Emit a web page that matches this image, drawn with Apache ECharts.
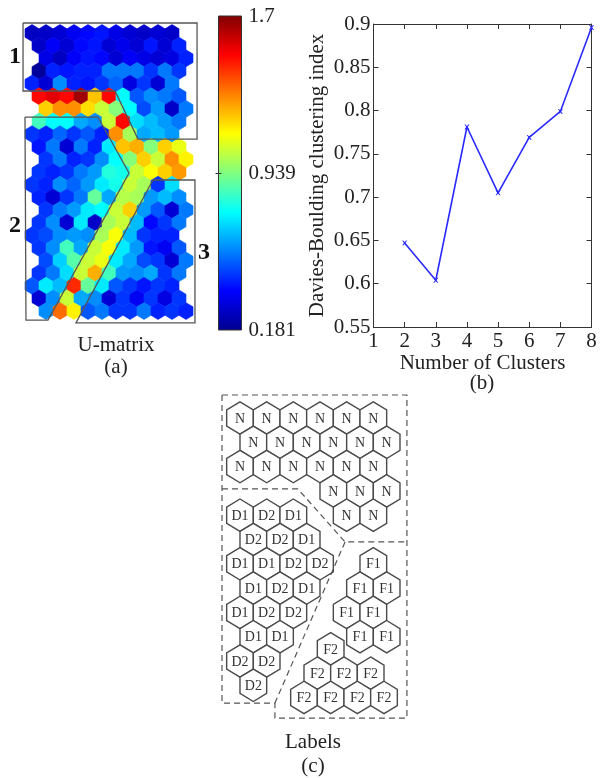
<!DOCTYPE html>
<html><head><meta charset="utf-8">
<script src="https://cdn.jsdelivr.net/npm/echarts@6/dist/echarts.min.js"></script>
<style>html,body{margin:0;padding:0;background:#fff}#c{width:602px;height:778px}</style>
</head><body><div id="c"></div>
<script>
// ---------- DATA ----------
// (a) U-matrix values, 23 rows x 11 columns (top row first)
const umatrix = [
  [0.27,0.28,0.30,0.35,0.38,0.40,0.33,0.30,0.28,0.30,0.28],
  [0.28,0.36,0.30,0.38,0.40,0.30,0.34,0.30,0.40,0.30,0.42],
  [0.33,0.27,0.36,0.40,0.38,0.30,0.36,0.33,0.30,0.32,0.42],
  [0.20,0.42,0.40,0.42,0.42,0.55,0.55,0.55,0.45,0.55,0.45],
  [0.42,0.30,0.58,0.42,0.40,0.45,0.52,0.32,0.45,0.30,0.55],
  [1.50,1.55,1.50,1.65,1.22,1.50,0.75,0.50,0.58,0.55,0.50],
  [1.20,1.30,1.30,1.18,1.05,0.95,0.75,0.48,0.60,0.28,0.55],
  [0.85,0.75,0.75,0.62,0.58,1.05,1.50,0.70,0.65,0.60,0.55],
  [0.45,0.42,0.52,0.45,0.50,0.42,1.30,1.00,0.62,0.65,0.60],
  [0.40,0.55,0.30,0.55,0.42,0.72,1.22,1.25,0.95,1.20,1.10],
  [0.45,0.55,0.42,0.45,0.58,0.75,0.95,1.20,1.05,1.30,1.15],
  [0.45,0.42,0.45,0.55,0.60,0.80,0.78,1.05,1.12,1.20,1.28],
  [0.45,0.42,0.58,0.52,0.60,0.72,0.78,1.05,1.00,0.45,0.70],
  [0.42,0.30,0.45,0.55,0.90,0.62,1.02,1.00,0.60,0.65,0.58],
  [0.45,0.55,0.60,0.72,0.75,1.05,1.20,0.60,0.50,0.30,0.55],
  [0.45,0.58,0.30,0.72,0.28,1.00,1.05,0.65,0.38,0.45,0.55],
  [0.45,0.48,0.58,0.60,0.58,1.00,1.12,0.65,0.45,0.42,0.42],
  [0.45,0.58,0.85,0.62,1.05,1.12,0.72,0.60,0.40,0.35,0.50],
  [0.48,0.68,0.88,1.05,1.10,0.72,0.62,0.48,0.45,0.30,0.55],
  [0.45,0.55,0.70,1.05,1.25,0.85,0.60,0.58,0.62,0.45,0.55],
  [0.50,0.72,0.65,1.45,0.90,0.72,0.50,0.45,0.40,0.45,0.42],
  [0.30,0.58,1.05,0.62,0.58,0.30,0.45,0.35,0.45,0.32,0.45],
  [0.58,1.35,1.15,0.50,0.55,0.45,0.45,0.55,0.42,0.45,0.42]
];
const umatrixRowShift = [0, 0.5, 1, 0.5];
const colorbarMin = 0.181;
const colorbarMax = 1.7;
const colorbarTicks = [0.181, 0.939, 1.7];
const jetColors = ['#00008f','#0000ff','#0080ff','#00ffff','#80ff80','#ffff00','#ff8000','#ff0000','#800000'];
// cluster outlines on the U-matrix, in grid units (column, row)
const umRegion1 = [[-0.64,-0.79],[11.79,-0.79],[11.79,8.39],[7.57,8.39],[5.93,4.59],[-0.64,4.59],[-0.64,-0.79]];
const umRegion2 = [[-0.5,6.65],[4.71,6.65],[6.93,11.08],[1.14,22.71],[-0.43,22.71],[-0.5,6.65]];
const umRegion3 = [[8.64,11.63],[11.64,11.63],[11.64,22.94],[3.14,22.94],[8.64,11.63]];

// (b) Davies-Bouldin index
const clusterCounts = [2, 3, 4, 5, 6, 7, 8];
const dbIndex = [0.647, 0.604, 0.781, 0.705, 0.769, 0.799, 0.896];

// (c) label map cells: [label, column, row]
const labelCells = [
  ['N',0,0],['N',1,0],['N',2,0],['N',3,0],['N',4,0],['N',5,0],
  ['N',0.5,1],['N',1.5,1],['N',2.5,1],['N',3.5,1],['N',4.5,1],['N',5.5,1],
  ['N',0,2],['N',1,2],['N',2,2],['N',3,2],['N',4,2],['N',5,2],
  ['N',3.5,3],['N',4.5,3],['N',5.5,3],
  ['D1',0,4],['D2',1,4],['D1',2,4],['N',4,4],['N',5,4],
  ['D2',0.5,5],['D2',1.5,5],['D1',2.5,5],
  ['D1',0,6],['D1',1,6],['D2',2,6],['D2',3,6],['F1',5,6],
  ['D1',0.5,7],['D2',1.5,7],['D1',2.5,7],['F1',4.5,7],['F1',5.5,7],
  ['D1',0,8],['D2',1,8],['D2',2,8],['F1',4,8],['F1',5,8],
  ['D1',0.5,9],['D1',1.5,9],['F1',4.5,9],['F1',5.5,9],
  ['D2',0,10],['D2',1,10],
  ['D2',0.5,11],
  ['F2',3.4,9.5],
  ['F2',2.9,10.5],['F2',3.9,10.5],['F2',4.9,10.5],
  ['F2',2.4,11.5],['F2',3.4,11.5],['F2',4.4,11.5],['F2',5.4,11.5]
];
const labelOutline = [[-0.675,-0.947],[6.26,-0.947],[6.26,12.35],[1.31,12.35],[1.31,11.73],[-0.675,11.73],[-0.675,-0.947]];
const labelSplitA = [[-0.675,2.92],[2.17,2.92],[3.94,5.10],[6.26,5.10]];
const labelSplitB = [[3.94,5.10],[1.31,11.73]];

// ---------- CHART ----------
const SERIF = "'Liberation Serif','Times New Roman',serif";
const TXT = '#222';
const chart = echarts.init(document.getElementById('c'), null, {renderer:'canvas', width:602, height:778});

const umData = [];
umatrix.forEach((row, r) => row.forEach((v, c) => umData.push([c + umatrixRowShift[r % 4], r, v])));

function hexShape(api, x, y) {
  const p = api.coord([x, y]);
  const s = api.size([1, 1]);
  const hw = Math.abs(s[0]) / 2, a = Math.abs(s[1]) * 2 / 3, b = Math.abs(s[1]) / 3;
  return [[p[0], p[1]-a],[p[0]+hw, p[1]-b],[p[0]+hw, p[1]+b],[p[0], p[1]+a],[p[0]-hw, p[1]+b],[p[0]-hw, p[1]-b]];
}

const hidden = {show:false};
const option = {
  animation: false,
  backgroundColor: '#fff',
  grid: [
    {left: 18, top: 20.36, width: 182, height: 303.36},       // U-matrix
    {left: 218.5, top: 16, width: 23, height: 314},           // colorbar
    {left: 373.5, top: 24, width: 218, height: 303},          // DB index
    {left: 213.33, top: 381.55, width: 213.33, height: 352.35} // labels
  ],
  xAxis: [
    {gridIndex:0, type:'value', min:-1, max:12, show:false},
    {gridIndex:1, type:'value', min:0, max:1, show:false},
    {gridIndex:2, type:'value', min:1, max:8, interval:1, position:'bottom',
      axisLine:{lineStyle:{color:'#333', width:1}}, splitLine:hidden,
      axisTick:{inside:true, length:5, lineStyle:{color:'#333'}},
      axisLabel:{fontFamily:SERIF, fontSize:21, color:TXT, margin:4},
      name:'Number of Clusters', nameLocation:'middle', nameGap:25,
      nameTextStyle:{fontFamily:SERIF, fontSize:21, color:TXT}},
    {gridIndex:2, type:'value', min:1, max:8, interval:1, position:'top',
      axisLine:{lineStyle:{color:'#333', width:1}}, splitLine:hidden,
      axisTick:{inside:true, length:5, lineStyle:{color:'#333'}}, axisLabel:hidden},
    {gridIndex:3, type:'value', min:-1, max:7, show:false}
  ],
  yAxis: [
    {gridIndex:0, type:'value', min:-1, max:23, inverse:true, show:false},
    {gridIndex:1, type:'value', min:colorbarMin, max:colorbarMax, position:'right', z:10,
      axisLine:hidden, splitLine:hidden,
      axisTick:{show:true, inside:true, length:3, customValues:[0.939], lineStyle:{color:'#333'}},
      axisLabel:{customValues:colorbarTicks, fontFamily:SERIF, fontSize:21, color:TXT, margin:7,
        formatter: v => String(v)}},
    {gridIndex:1, type:'value', min:colorbarMin, max:colorbarMax, position:'left', z:10,
      axisLine:hidden, splitLine:hidden, axisLabel:hidden,
      axisTick:{show:true, inside:true, length:3, customValues:[0.939], lineStyle:{color:'#333'}}},
    {gridIndex:2, type:'value', min:0.55, max:0.9, interval:0.05, position:'left',
      axisLine:{show:true, lineStyle:{color:'#333', width:1}}, splitLine:hidden,
      axisTick:{inside:true, length:5, lineStyle:{color:'#333'}},
      axisLabel:{fontFamily:SERIF, fontSize:21, color:TXT, margin:3},
      name:'Davies-Boulding clustering index', nameLocation:'middle', nameGap:46, nameRotate:90,
      nameTextStyle:{fontFamily:SERIF, fontSize:21, color:TXT}},
    {gridIndex:2, type:'value', min:0.55, max:0.9, interval:0.05, position:'right',
      axisLine:{show:true, lineStyle:{color:'#333', width:1}}, splitLine:hidden,
      axisTick:{inside:true, length:5, lineStyle:{color:'#333'}}, axisLabel:hidden},
    {gridIndex:3, type:'value', min:-1.5, max:13, inverse:true, show:false}
  ],
  visualMap: {
    show:false, type:'continuous', seriesIndex:0, dimension:2,
    min:colorbarMin, max:colorbarMax, inRange:{color:jetColors}
  },
  series: [
    { // U-matrix hexagons
      type:'custom', xAxisIndex:0, yAxisIndex:0, data:umData, silent:true,
      renderItem: (params, api) => {
        const col = api.visual('color');
        return {type:'polygon', shape:{points:hexShape(api, api.value(0), api.value(1))},
          style:{fill:col, stroke:col, lineWidth:0.6}};
      }
    },
    { // cluster outlines on U-matrix
      type:'lines', coordinateSystem:'cartesian2d', xAxisIndex:0, yAxisIndex:0, polyline:true, silent:true, z:5,
      lineStyle:{color:'#555', width:1.3, opacity:1},
      data:[{coords:umRegion1},{coords:umRegion2},{coords:umRegion3}]
    },
    { // colorbar
      type:'custom', xAxisIndex:1, yAxisIndex:1, data:[[0, colorbarMin, 1, colorbarMax]], silent:true,
      renderItem: (params, api) => {
        const p0 = api.coord([api.value(0), api.value(3)]);
        const p1 = api.coord([api.value(2), api.value(1)]);
        const stops = jetColors.slice().reverse().map((c, i) => ({offset:i/(jetColors.length-1), color:c}));
        return {type:'rect', shape:{x:p0[0], y:p0[1], width:p1[0]-p0[0], height:p1[1]-p0[1]},
          style:{fill:{type:'linear', x:0, y:0, x2:0, y2:1, colorStops:stops}, stroke:'#333', lineWidth:1}};
      }
    },
    { // Davies-Bouldin line
      type:'line', xAxisIndex:2, yAxisIndex:3,
      data: clusterCounts.map((k, i) => [k, dbIndex[i]]),
      lineStyle:{color:'#2a2aff', width:1.6},
      itemStyle:{color:'#2a2aff'},
      symbol:'path://M0,0L2,0L5,3L8,0L10,0L6.5,5L10,10L8,10L5,7L2,10L0,10L3.5,5Z',
      symbolSize:5, showSymbol:true
    },
    { // label map hexagons
      type:'custom', xAxisIndex:4, yAxisIndex:5, silent:true,
      data: labelCells.map(d => [d[1], d[2]]),
      renderItem: (params, api) => {
        const pts = hexShape(api, api.value(0), api.value(1));
        const c = api.coord([api.value(0), api.value(1)]);
        return {type:'group', children:[
          {type:'polygon', shape:{points:pts}, style:{fill:'#fff', stroke:'#4a4a4a', lineWidth:1.4}},
          {type:'text', x:c[0], y:c[1]+1, style:{text:labelCells[params.dataIndex][0], fill:'#333',
            font:'14px ' + SERIF, align:'center', verticalAlign:'middle'}}
        ]};
      }
    },
    { // dashed cluster borders on label map
      type:'lines', coordinateSystem:'cartesian2d', xAxisIndex:4, yAxisIndex:5, polyline:true, silent:true, z:5,
      lineStyle:{color:'#555', width:1.2, type:[6,4], opacity:1},
      data:[{coords:labelOutline},{coords:labelSplitA},{coords:labelSplitB}]
    }
  ],
  graphic: [
    {type:'text', x:15, y:57, style:{text:'1', font:'bold 24px ' + SERIF, fill:'#111', align:'center', verticalAlign:'middle'}},
    {type:'text', x:15, y:226, style:{text:'2', font:'bold 24px ' + SERIF, fill:'#111', align:'center', verticalAlign:'middle'}},
    {type:'text', x:204, y:253, style:{text:'3', font:'bold 24px ' + SERIF, fill:'#111', align:'center', verticalAlign:'middle'}},
    {type:'text', x:116, y:345, style:{text:'U-matrix', font:'21px ' + SERIF, fill:TXT, align:'center', verticalAlign:'middle'}},
    {type:'text', x:116, y:367, style:{text:'(a)', font:'21px ' + SERIF, fill:TXT, align:'center', verticalAlign:'middle'}},
    {type:'text', x:482, y:383, style:{text:'(b)', font:'21px ' + SERIF, fill:TXT, align:'center', verticalAlign:'middle'}},
    {type:'text', x:313, y:742, style:{text:'Labels', font:'21px ' + SERIF, fill:TXT, align:'center', verticalAlign:'middle'}},
    {type:'text', x:313, y:766, style:{text:'(c)', font:'21px ' + SERIF, fill:TXT, align:'center', verticalAlign:'middle'}}
  ]
};
chart.setOption(option);
</script>
</body></html>
